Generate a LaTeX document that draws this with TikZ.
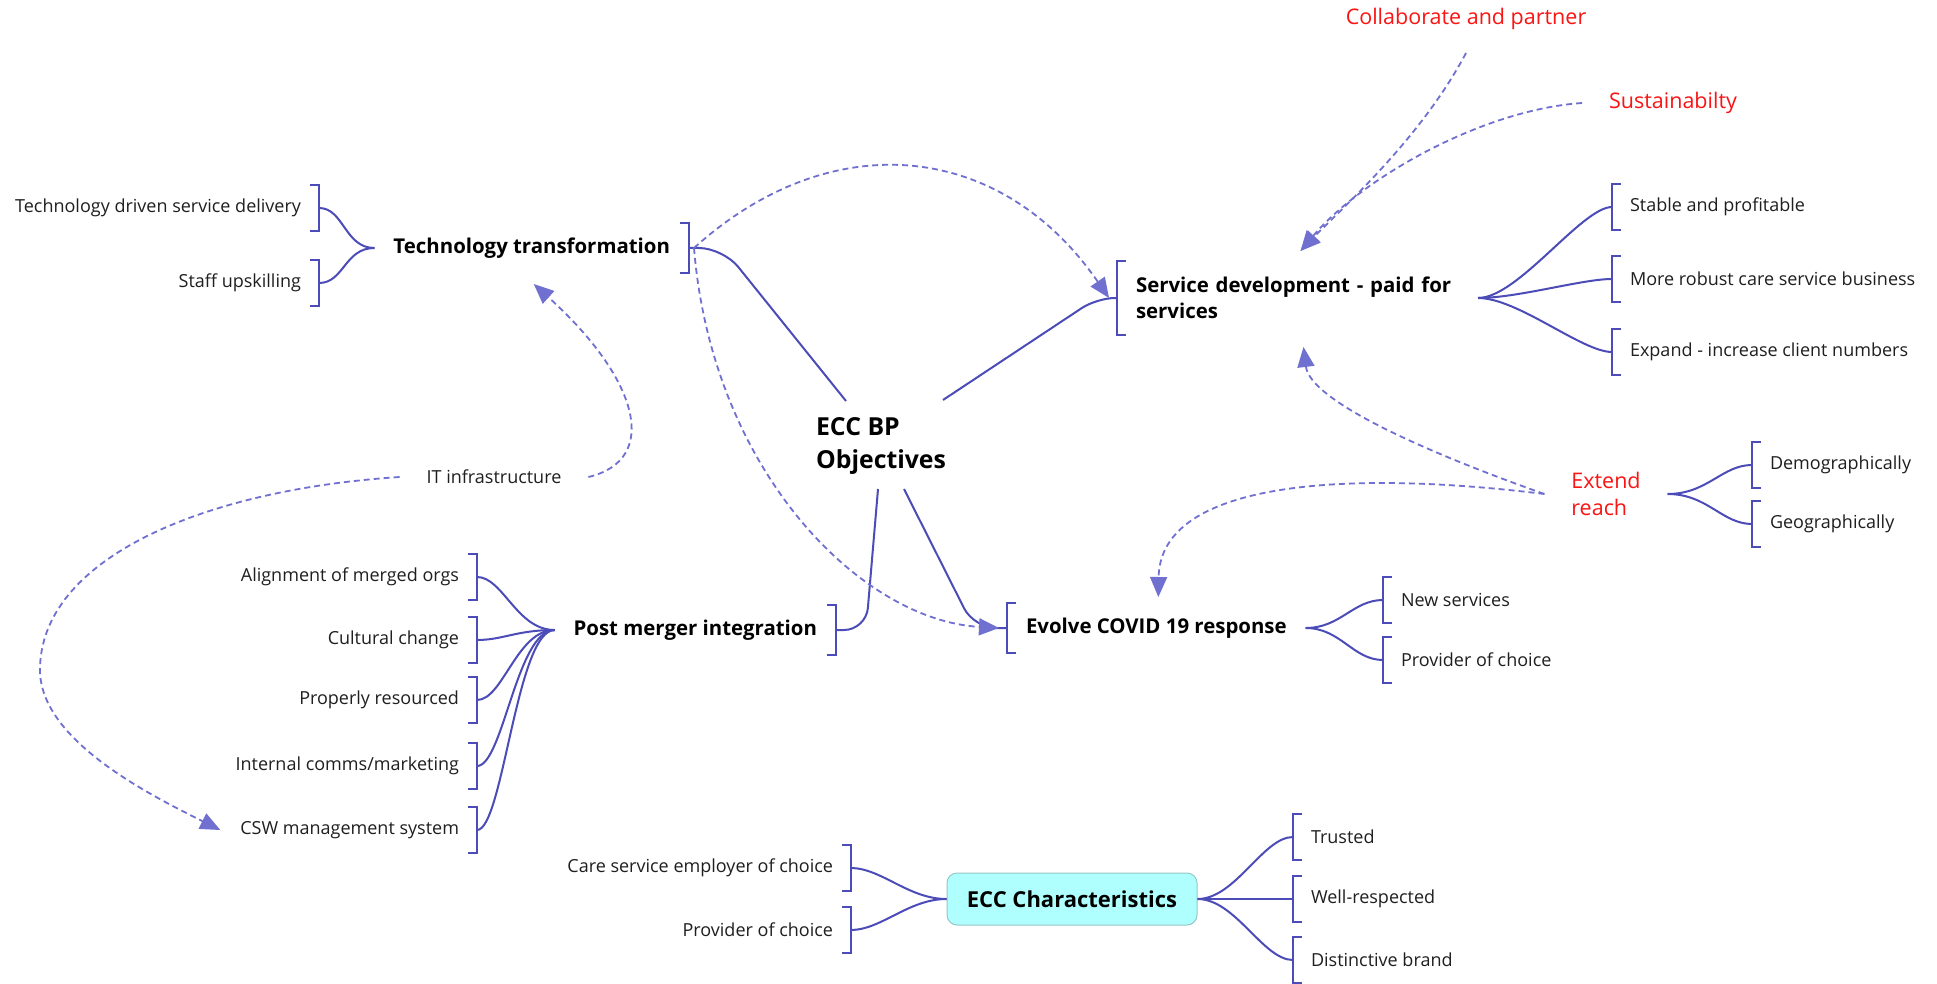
\documentclass[tikz,border=0pt]{standalone}
\usepackage{fontspec}
\setmainfont{Open Sans}
\usepackage{xcolor}
\usepackage{tikz}
\usetikzlibrary{arrows.meta,calc}

\definecolor{linkblue}{RGB}{76,76,184}
\definecolor{dashblue}{RGB}{112,112,208}
\definecolor{ideared}{RGB}{250,20,20}
\definecolor{boxcyan}{RGB}{176,255,255}
\definecolor{boxedge}{RGB}{150,198,198}

\tikzset{
    brk/.style={draw=linkblue, line width=2.2pt},
    branch/.style={draw=linkblue, line width=2pt},
    link/.style={draw=dashblue, line width=1.8pt, dash pattern=on 6pt off 4pt,
        -{Triangle[length=20pt,width=17pt]}},
    leaf/.style={font=\fontsize{18}{21}\selectfont, text=black!88,
        inner sep=0pt, outer xsep=18pt},
    topic/.style={font=\fontsize{20.4}{26}\selectfont\bfseries, inner sep=0pt,
        outer xsep=19pt},
    rootnode/.style={font=\fontsize{24.8}{33}\selectfont\bfseries, align=left,
        inner sep=0pt},
    floater/.style={font=\fontsize{18}{21}\selectfont, text=black!88,
        inner sep=0pt, outer xsep=27pt},
    idea/.style={floater, font=\fontsize{21.5}{27}\selectfont, text=ideared},
    charbox/.style={font=\fontsize{22}{24}\selectfont\bfseries, rounded corners=10pt,
        fill=boxcyan, draw=boxedge, line width=1pt, minimum width=250pt,
        minimum height=52pt},
    rbrk/.pic={\draw[brk] (-9,-#1) -- (0,-#1) -- (0,#1) -- (-9,#1);},
    lbrk/.pic={\draw[brk] (9,-#1) -- (0,-#1) -- (0,#1) -- (9,#1);},
}

\begin{document}
\begin{tikzpicture}[x=1pt,y=-1pt]
    \useasboundingbox[fill=white] (0,0) rectangle (1937,984);

    % centre
    \node[rootnode] (root) at (881,446) {ECC BP\\Objectives};

    % main topics
    \node[topic, anchor=east] (tech) at (689,248) {Technology transformation};
    \node[topic, anchor=west, text width=323pt, align=left] (serv) at (1117,298)
        {Service development - paid for\\services};
    \node[topic, anchor=east] (post) at (836,630) {Post merger integration};
    \node[topic, anchor=west] (evo) at (1007,628) {Evolve COVID 19 response};
    \node[charbox] (ecc) at (1072,899) {ECC Characteristics};

    \pic at (tech.east) {rbrk=25};
    \pic at (serv.west) {lbrk=37};
    \pic at (post.east) {rbrk=25};
    \pic at (evo.west) {lbrk=25};

    % loose ideas
    \node[floater] (it) at (494,477) {IT infrastructure};
    \node[idea] (collab) at (1466,19) {Collaborate and partner};
    \node[idea] (sust) at (1673,103) {Sustainabilty};
    \node[idea, align=left] (extend) at (1606,494) {Extend\\reach};

    % leaves, left hand side
    \node[leaf, anchor=east] (tdsd) at (319,208) {Technology driven service delivery};
    \node[leaf, anchor=east] (staff) at (319,283) {Staff upskilling};
    \node[leaf, anchor=east] (align) at (477,577) {Alignment of merged orgs};
    \node[leaf, anchor=east] (cult) at (477,640) {Cultural change};
    \node[leaf, anchor=east] (reso) at (477,700) {Properly resourced};
    \node[leaf, anchor=east] (comms) at (477,766) {Internal comms/marketing};
    \node[leaf, anchor=east] (csw) at (477,830) {CSW management system};
    \node[leaf, anchor=east] (care) at (851,868) {Care service employer of choice};
    \node[leaf, anchor=east] (provb) at (851,930) {Provider of choice};

    % leaves, right hand side
    \node[leaf, anchor=west] (stab) at (1612,207) {Stable and profitable};
    \node[leaf, anchor=west] (robust) at (1612,279) {More robust care service business};
    \node[leaf, anchor=west] (expand) at (1612,352) {Expand - increase client numbers};
    \node[leaf, anchor=west] (newsv) at (1383,600) {New services};
    \node[leaf, anchor=west] (prova) at (1383,660) {Provider of choice};
    \node[leaf, anchor=west] (demo) at (1752,465) {Demographically};
    \node[leaf, anchor=west] (geo) at (1752,524) {Geographically};
    \node[leaf, anchor=west] (trust) at (1293,837) {Trusted};
    \node[leaf, anchor=west] (resp) at (1293,899) {Well-respected};
    \node[leaf, anchor=west] (brand) at (1293,960) {Distinctive brand};

    % brackets round the leaves
    \foreach \n in {tdsd,staff,align,cult,reso,comms,csw,care,provb}
        \pic at (\n.east) {rbrk=23};
    \foreach \n in {stab,robust,expand,newsv,prova,demo,geo,trust,resp,brand}
        \pic at (\n.west) {lbrk=23};

    % centre to topics
    \draw[branch, rounded corners=24pt] ($(root.center)+(-35,-45)$)
        -- ([xshift=34pt]tech.east) -- (tech.east);
    \draw[branch, rounded corners=18pt] ($(root.center)+(62,-46)$)
        -- ([xshift=-20pt]serv.west) -- (serv.west);
    \draw[branch, rounded corners=22pt] ($(root.center)+(-3,43)$)
        -- ([xshift=30pt]post.east) -- (post.east);
    \draw[branch, rounded corners=22pt] ($(root.center)+(23,43)$)
        -- ([xshift=-33pt]evo.west) -- (evo.west);

    % topics to leaves
    \foreach \n in {tdsd,staff}
        \draw[branch] (\n.east) .. controls +(25,0) and +(-30,0) .. (tech.west);
    \foreach \n in {align,cult,reso,comms,csw}
        \draw[branch] (\n.east) .. controls +(26,0) and +(-38,0) .. (post.west);
    \foreach \n in {stab,robust,expand}
        \draw[branch] (serv.east) .. controls +(40,0) and +(-30,0) .. (\n.west);
    \foreach \n in {newsv,prova}
        \draw[branch] (evo.east) .. controls +(35,0) and +(-30,0) .. (\n.west);
    \foreach \n in {demo,geo}
        \draw[branch] (extend.east) .. controls +(40,0) and +(-30,0) .. (\n.west);
    \foreach \n in {care,provb}
        \draw[branch] (\n.east) .. controls +(30,0) and +(-38,0) .. (ecc.west);
    \foreach \n in {trust,resp,brand}
        \draw[branch] (ecc.east) .. controls +(38,0) and +(-30,0) .. (\n.west);

    % dashed relations
    \draw[link] ([xshift=5pt]tech.east) .. controls (830,125) and (1000,140)
        .. ([xshift=-8pt]serv.west);
    \draw[link] ([xshift=5pt]tech.east) .. controls (712,470) and (860,620)
        .. ([xshift=-8pt]evo.west);
    \draw[link] (it.east) .. controls (660,460) and (640,380)
        .. ($(tech.center)+(2,36)$);
    \draw[link] (it.west) .. controls (200,490) and (40,560) .. (40,670)
        .. controls (40,740) and (150,795) .. ([xshift=-2pt]csw.west);
    \draw[link] ($(collab.center)+(0,34)$) .. controls (1420,140) and (1340,210)
        .. ($(serv.center)+(3,-47)$);
    \draw[link] (sust.west) .. controls (1480,110) and (1360,180)
        .. ($(serv.center)+(3,-47)$);
    \draw[link] (extend.west) .. controls (1420,450) and (1310,400)
        .. ($(serv.center)+(6,49)$);
    \draw[link] (extend.west) .. controls (1350,470) and (1160,480)
        .. ($(evo.center)+(2,-31)$);
\end{tikzpicture}
\end{document}
